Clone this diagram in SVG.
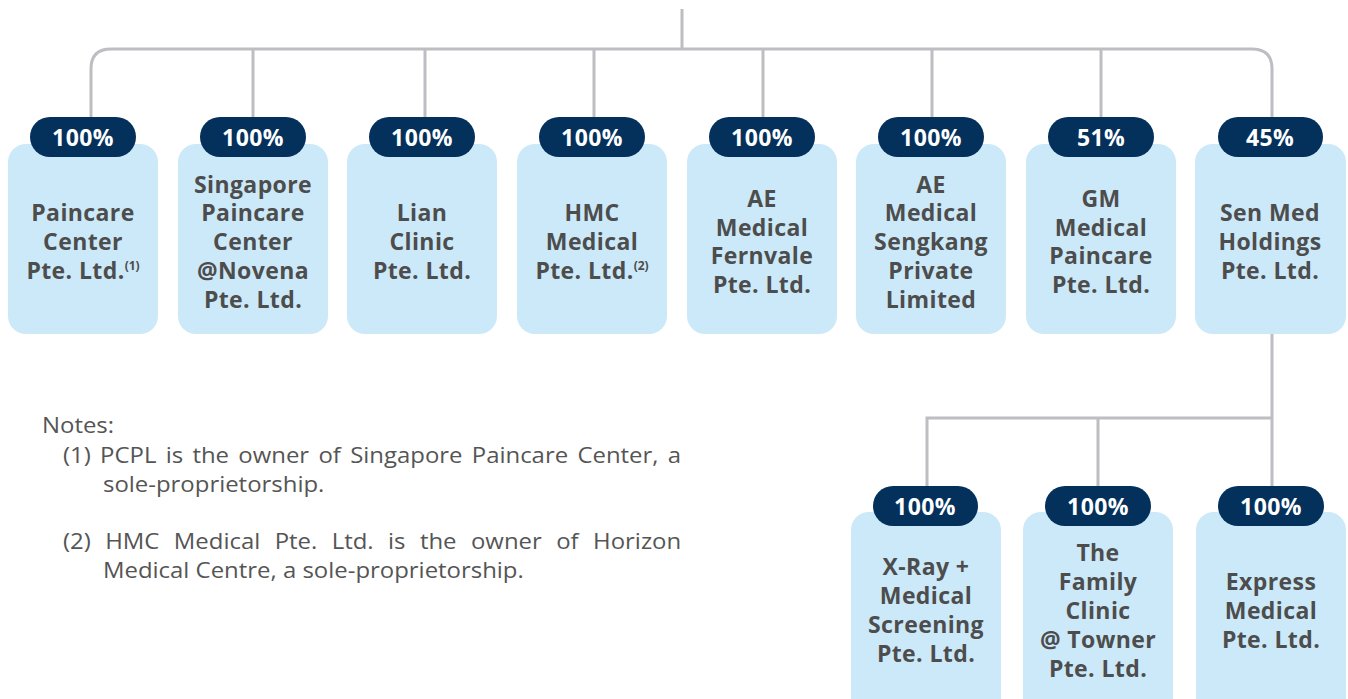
<svg xmlns="http://www.w3.org/2000/svg" width="1348" height="699" viewBox="0 0 1348 699">
<style>
.box{fill:#cce9f9}
.badge{fill:#03315c}
.bt{font-family:"Open Sans","Liberation Sans",sans-serif;font-weight:700;font-size:23px;letter-spacing:0.4px;fill:#ffffff;text-anchor:middle}
.nt{font-family:"Open Sans","Liberation Sans",sans-serif;font-weight:700;font-size:23px;letter-spacing:0.4px;fill:#4d4d4d;text-anchor:middle}
.sup{font-size:12px;letter-spacing:0}
.conn{fill:none;stroke:#bdbdc2;stroke-width:3}
.note{font-family:"Open Sans","Liberation Sans",sans-serif;font-size:21px;fill:#555555}
</style>
<rect width="1348" height="699" fill="#ffffff"/>
<g id="connectors">
<path class="conn" d="M682 9V49"/>
<path class="conn" d="M91 117V69Q91 49 111 49H1252Q1272 49 1272 69V117"/>
<path class="conn" d="M253 49V117M425 49V117M594 49V117M763 49V117M932 49V117M1101 49V117"/>
<path class="conn" d="M1272 334V486M927 486V418H1272M1098 418V486"/>
</g>
<g id="n1"><rect class="box" x="8" y="144" width="150" height="190" rx="18"/><rect class="badge" x="30" y="117" width="106" height="40" rx="20"/><text class="bt" x="83" y="145.5">100%</text>
<text class="nt" x="83"><tspan x="83" y="221">Paincare</tspan><tspan x="83" y="250">Center</tspan><tspan x="83" y="279">Pte. Ltd.<tspan class="sup" dy="-9">(1)</tspan></tspan></text></g>
<g id="n2"><rect class="box" x="178" y="144" width="150" height="190" rx="18"/><rect class="badge" x="200" y="117" width="106" height="40" rx="20"/><text class="bt" x="253" y="145.5">100%</text>
<text class="nt"><tspan x="253" y="193">Singapore</tspan><tspan x="253" y="221">Paincare</tspan><tspan x="253" y="250">Center</tspan><tspan x="253" y="279">@Novena</tspan><tspan x="253" y="308">Pte. Ltd.</tspan></text></g>
<g id="n3"><rect class="box" x="347" y="144" width="150" height="190" rx="18"/><rect class="badge" x="369" y="117" width="106" height="40" rx="20"/><text class="bt" x="422" y="145.5">100%</text>
<text class="nt"><tspan x="422" y="221">Lian</tspan><tspan x="422" y="250">Clinic</tspan><tspan x="422" y="279">Pte. Ltd.</tspan></text></g>
<g id="n4"><rect class="box" x="517" y="144" width="150" height="190" rx="18"/><rect class="badge" x="539" y="117" width="106" height="40" rx="20"/><text class="bt" x="592" y="145.5">100%</text>
<text class="nt"><tspan x="592" y="221">HMC</tspan><tspan x="592" y="250">Medical</tspan><tspan x="592" y="279">Pte. Ltd.<tspan class="sup" dy="-9">(2)</tspan></tspan></text></g>
<g id="n5"><rect class="box" x="687" y="144" width="150" height="190" rx="18"/><rect class="badge" x="709" y="117" width="106" height="40" rx="20"/><text class="bt" x="762" y="145.5">100%</text>
<text class="nt"><tspan x="762" y="207">AE</tspan><tspan x="762" y="236">Medical</tspan><tspan x="762" y="264">Fernvale</tspan><tspan x="762" y="293">Pte. Ltd.</tspan></text></g>
<g id="n6"><rect class="box" x="856" y="144" width="150" height="190" rx="18"/><rect class="badge" x="878" y="117" width="106" height="40" rx="20"/><text class="bt" x="931" y="145.5">100%</text>
<text class="nt"><tspan x="931" y="193">AE</tspan><tspan x="931" y="221">Medical</tspan><tspan x="931" y="250">Sengkang</tspan><tspan x="931" y="279">Private</tspan><tspan x="931" y="308">Limited</tspan></text></g>
<g id="n7"><rect class="box" x="1026" y="144" width="150" height="190" rx="18"/><rect class="badge" x="1048" y="117" width="106" height="40" rx="20"/><text class="bt" x="1101" y="145.5">51%</text>
<text class="nt"><tspan x="1101" y="207">GM</tspan><tspan x="1101" y="236">Medical</tspan><tspan x="1101" y="264">Paincare</tspan><tspan x="1101" y="293">Pte. Ltd.</tspan></text></g>
<g id="n8"><rect class="box" x="1195" y="144" width="151" height="190" rx="18"/><rect class="badge" x="1218" y="117" width="105" height="40" rx="20"/><text class="bt" x="1270" y="145.5">45%</text>
<text class="nt"><tspan x="1270" y="221">Sen Med</tspan><tspan x="1270" y="250">Holdings</tspan><tspan x="1270" y="279">Pte. Ltd.</tspan></text></g>
<g id="n9"><rect class="box" x="851" y="512" width="150" height="210" rx="18"/><rect class="badge" x="873" y="486" width="105" height="40" rx="20"/><text class="bt" x="925" y="514.5">100%</text>
<text class="nt"><tspan x="926" y="575">X-Ray +</tspan><tspan x="926" y="604">Medical</tspan><tspan x="926" y="633">Screening</tspan><tspan x="926" y="662">Pte. Ltd.</tspan></text></g>
<g id="n10"><rect class="box" x="1023" y="512" width="150" height="210" rx="18"/><rect class="badge" x="1045" y="486" width="106" height="40" rx="20"/><text class="bt" x="1098" y="514.5">100%</text>
<text class="nt"><tspan x="1098" y="561">The</tspan><tspan x="1098" y="590">Family</tspan><tspan x="1098" y="619">Clinic</tspan><tspan x="1098" y="648">@ Towner</tspan><tspan x="1098" y="677">Pte. Ltd.</tspan></text></g>
<g id="n11"><rect class="box" x="1196" y="512" width="150" height="210" rx="18"/><rect class="badge" x="1218" y="486" width="106" height="40" rx="20"/><text class="bt" x="1271" y="514.5">100%</text>
<text class="nt"><tspan x="1271" y="590">Express</tspan><tspan x="1271" y="619">Medical</tspan><tspan x="1271" y="648">Pte. Ltd.</tspan></text></g>
<g id="notes" transform="translate(42,0) scale(1.14,1)">
<text class="note" x="0" y="433">Notes:</text>
<text class="note" x="18.4" y="463" word-spacing="2.7">(1) PCPL is the owner of Singapore Paincare Center, a</text>
<text class="note" x="53.5" y="492">sole-proprietorship.</text>
<text class="note" x="18.4" y="549" word-spacing="7.2">(2) HMC Medical Pte. Ltd. is the owner of Horizon</text>
<text class="note" x="53.5" y="578">Medical Centre, a sole-proprietorship.</text>
</g>
</svg>
